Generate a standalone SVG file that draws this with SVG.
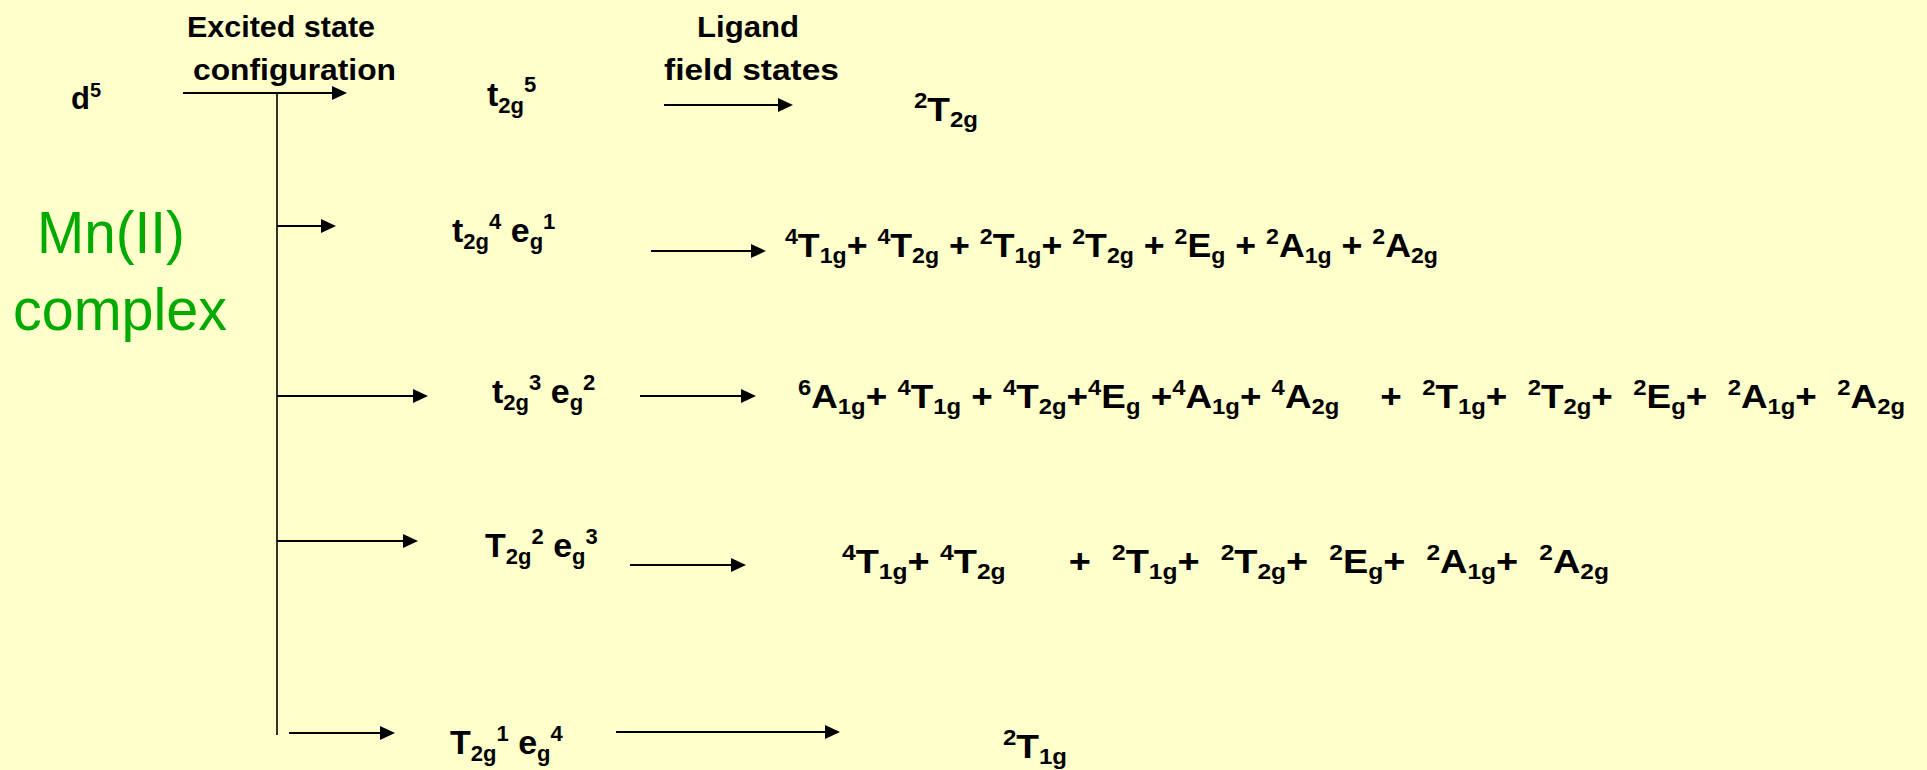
<svg xmlns="http://www.w3.org/2000/svg" width="1927" height="770" viewBox="0 0 1927 770">
<defs>
<marker id="ah" markerUnits="userSpaceOnUse" markerWidth="15" markerHeight="15" viewBox="0 -7.5 15 15" refX="0" refY="0" orient="auto"><path d="M0,-7 L15,0 L0,7 z" fill="#000"/></marker>
<style>
text{font-family:"Liberation Sans",Arial,sans-serif;fill:#000;font-weight:bold}
.h{font-size:30px}
.g{font-weight:normal;fill:#00AA00;font-size:60px}
.f{font-size:34px}
.p{font-size:22px}
.c{font-size:34px}
.q{font-size:22px}
.arr{stroke:#000;stroke-width:2;fill:none;marker-end:url(#ah)}
</style>
</defs>
<rect width="1927" height="770" fill="#FFFFCC"/>
<g id="connectors">
<line x1="277" y1="93" x2="277" y2="735" stroke="#000" stroke-width="1.6"/>
<line class="arr" x1="183" y1="93" x2="332" y2="93"/>
<line class="arr" x1="664" y1="105" x2="778" y2="105"/>
<line class="arr" x1="277" y1="226" x2="321" y2="226"/>
<line class="arr" x1="651" y1="251" x2="751" y2="251"/>
<line class="arr" x1="277" y1="396" x2="413" y2="396"/>
<line class="arr" x1="640" y1="396" x2="741" y2="396"/>
<line class="arr" x1="277" y1="541" x2="403" y2="541"/>
<line class="arr" x1="630" y1="565" x2="731" y2="565"/>
<line class="arr" x1="289" y1="733" x2="380" y2="733"/>
<line class="arr" x1="616" y1="732" x2="825" y2="732"/>
</g>
<g id="header-excited">
<text class="h" x="187" y="37" textLength="188" lengthAdjust="spacingAndGlyphs">Excited state</text>
<text class="h" x="193" y="80" textLength="203" lengthAdjust="spacingAndGlyphs">configuration</text>
</g>
<g id="header-ligand">
<text class="h" x="697" y="37" textLength="102" lengthAdjust="spacingAndGlyphs">Ligand</text>
<text class="h" x="664" y="80" textLength="175" lengthAdjust="spacingAndGlyphs">field states</text>
</g>
<g id="title">
<text class="g" x="37" y="253" textLength="148" lengthAdjust="spacingAndGlyphs">Mn(II)</text>
<text class="g" x="13" y="330" textLength="214" lengthAdjust="spacingAndGlyphs">complex</text>
</g>
<g id="d5">
<text x="71" y="109" font-size="31">d<tspan font-size="20" dy="-12">5</tspan></text>
</g>
<g id="row1">
<text class="c" x="487" y="106">t<tspan class="q" dy="7">2g</tspan><tspan class="q" dy="-21">5</tspan></text>
<text class="f" x="914" y="121" textLength="64" lengthAdjust="spacingAndGlyphs"><tspan class="p" dy="-13">2</tspan><tspan dy="13">T</tspan><tspan class="p" dy="6">2g</tspan></text>
</g>
<g id="row2">
<text class="c" x="452" y="242" xml:space="preserve">t<tspan class="q" dy="7">2g</tspan><tspan class="q" dy="-20">4</tspan><tspan dy="13"> e</tspan><tspan class="q" dy="7">g</tspan><tspan class="q" dy="-20">1</tspan></text>
<text class="f" x="785" y="257" textLength="653" lengthAdjust="spacingAndGlyphs" xml:space="preserve"><tspan class="p" dy="-13">4</tspan><tspan dy="13">T</tspan><tspan class="p" dy="6">1g</tspan><tspan dy="-6">+ </tspan><tspan class="p" dy="-13">4</tspan><tspan dy="13">T</tspan><tspan class="p" dy="6">2g</tspan><tspan dy="-6"> + </tspan><tspan class="p" dy="-13">2</tspan><tspan dy="13">T</tspan><tspan class="p" dy="6">1g</tspan><tspan dy="-6">+ </tspan><tspan class="p" dy="-13">2</tspan><tspan dy="13">T</tspan><tspan class="p" dy="6">2g</tspan><tspan dy="-6"> + </tspan><tspan class="p" dy="-13">2</tspan><tspan dy="13">E</tspan><tspan class="p" dy="6">g</tspan><tspan dy="-6"> + </tspan><tspan class="p" dy="-13">2</tspan><tspan dy="13">A</tspan><tspan class="p" dy="6">1g</tspan><tspan dy="-6"> + </tspan><tspan class="p" dy="-13">2</tspan><tspan dy="13">A</tspan><tspan class="p" dy="6">2g</tspan></text>
</g>
<g id="row3">
<text class="c" x="492" y="403" xml:space="preserve">t<tspan class="q" dy="7">2g</tspan><tspan class="q" dy="-20">3</tspan><tspan dy="13"> e</tspan><tspan class="q" dy="7">g</tspan><tspan class="q" dy="-20">2</tspan></text>
<text class="f" x="798" y="408" textLength="1107" lengthAdjust="spacingAndGlyphs" xml:space="preserve"><tspan class="p" dy="-13">6</tspan><tspan dy="13">A</tspan><tspan class="p" dy="6">1g</tspan><tspan dy="-6">+ </tspan><tspan class="p" dy="-13">4</tspan><tspan dy="13">T</tspan><tspan class="p" dy="6">1g</tspan><tspan dy="-6"> + </tspan><tspan class="p" dy="-13">4</tspan><tspan dy="13">T</tspan><tspan class="p" dy="6">2g</tspan><tspan dy="-6">+</tspan><tspan class="p" dy="-13">4</tspan><tspan dy="13">E</tspan><tspan class="p" dy="6">g</tspan><tspan dy="-6"> +</tspan><tspan class="p" dy="-13">4</tspan><tspan dy="13">A</tspan><tspan class="p" dy="6">1g</tspan><tspan dy="-6">+ </tspan><tspan class="p" dy="-13">4</tspan><tspan dy="13">A</tspan><tspan class="p" dy="6">2g</tspan><tspan dy="-6">    +  </tspan><tspan class="p" dy="-13">2</tspan><tspan dy="13">T</tspan><tspan class="p" dy="6">1g</tspan><tspan dy="-6">+  </tspan><tspan class="p" dy="-13">2</tspan><tspan dy="13">T</tspan><tspan class="p" dy="6">2g</tspan><tspan dy="-6">+  </tspan><tspan class="p" dy="-13">2</tspan><tspan dy="13">E</tspan><tspan class="p" dy="6">g</tspan><tspan dy="-6">+  </tspan><tspan class="p" dy="-13">2</tspan><tspan dy="13">A</tspan><tspan class="p" dy="6">1g</tspan><tspan dy="-6">+  </tspan><tspan class="p" dy="-13">2</tspan><tspan dy="13">A</tspan><tspan class="p" dy="6">2g</tspan></text>
</g>
<g id="row4">
<text class="c" x="485" y="557" xml:space="preserve">T<tspan class="q" dy="7">2g</tspan><tspan class="q" dy="-20">2</tspan><tspan dy="13"> e</tspan><tspan class="q" dy="7">g</tspan><tspan class="q" dy="-20">3</tspan></text>
<text class="f" x="842" y="573" textLength="767" lengthAdjust="spacingAndGlyphs" xml:space="preserve"><tspan class="p" dy="-13">4</tspan><tspan dy="13">T</tspan><tspan class="p" dy="6">1g</tspan><tspan dy="-6">+ </tspan><tspan class="p" dy="-13">4</tspan><tspan dy="13">T</tspan><tspan class="p" dy="6">2g</tspan><tspan dy="-6">      +  </tspan><tspan class="p" dy="-13">2</tspan><tspan dy="13">T</tspan><tspan class="p" dy="6">1g</tspan><tspan dy="-6">+  </tspan><tspan class="p" dy="-13">2</tspan><tspan dy="13">T</tspan><tspan class="p" dy="6">2g</tspan><tspan dy="-6">+  </tspan><tspan class="p" dy="-13">2</tspan><tspan dy="13">E</tspan><tspan class="p" dy="6">g</tspan><tspan dy="-6">+  </tspan><tspan class="p" dy="-13">2</tspan><tspan dy="13">A</tspan><tspan class="p" dy="6">1g</tspan><tspan dy="-6">+  </tspan><tspan class="p" dy="-13">2</tspan><tspan dy="13">A</tspan><tspan class="p" dy="6">2g</tspan></text>
</g>
<g id="row5">
<text class="c" x="450" y="754" xml:space="preserve">T<tspan class="q" dy="7">2g</tspan><tspan class="q" dy="-20">1</tspan><tspan dy="13"> e</tspan><tspan class="q" dy="7">g</tspan><tspan class="q" dy="-20">4</tspan></text>
<text class="f" x="1003" y="758" textLength="64" lengthAdjust="spacingAndGlyphs"><tspan class="p" dy="-13">2</tspan><tspan dy="13">T</tspan><tspan class="p" dy="6">1g</tspan></text>
</g>
</svg>
